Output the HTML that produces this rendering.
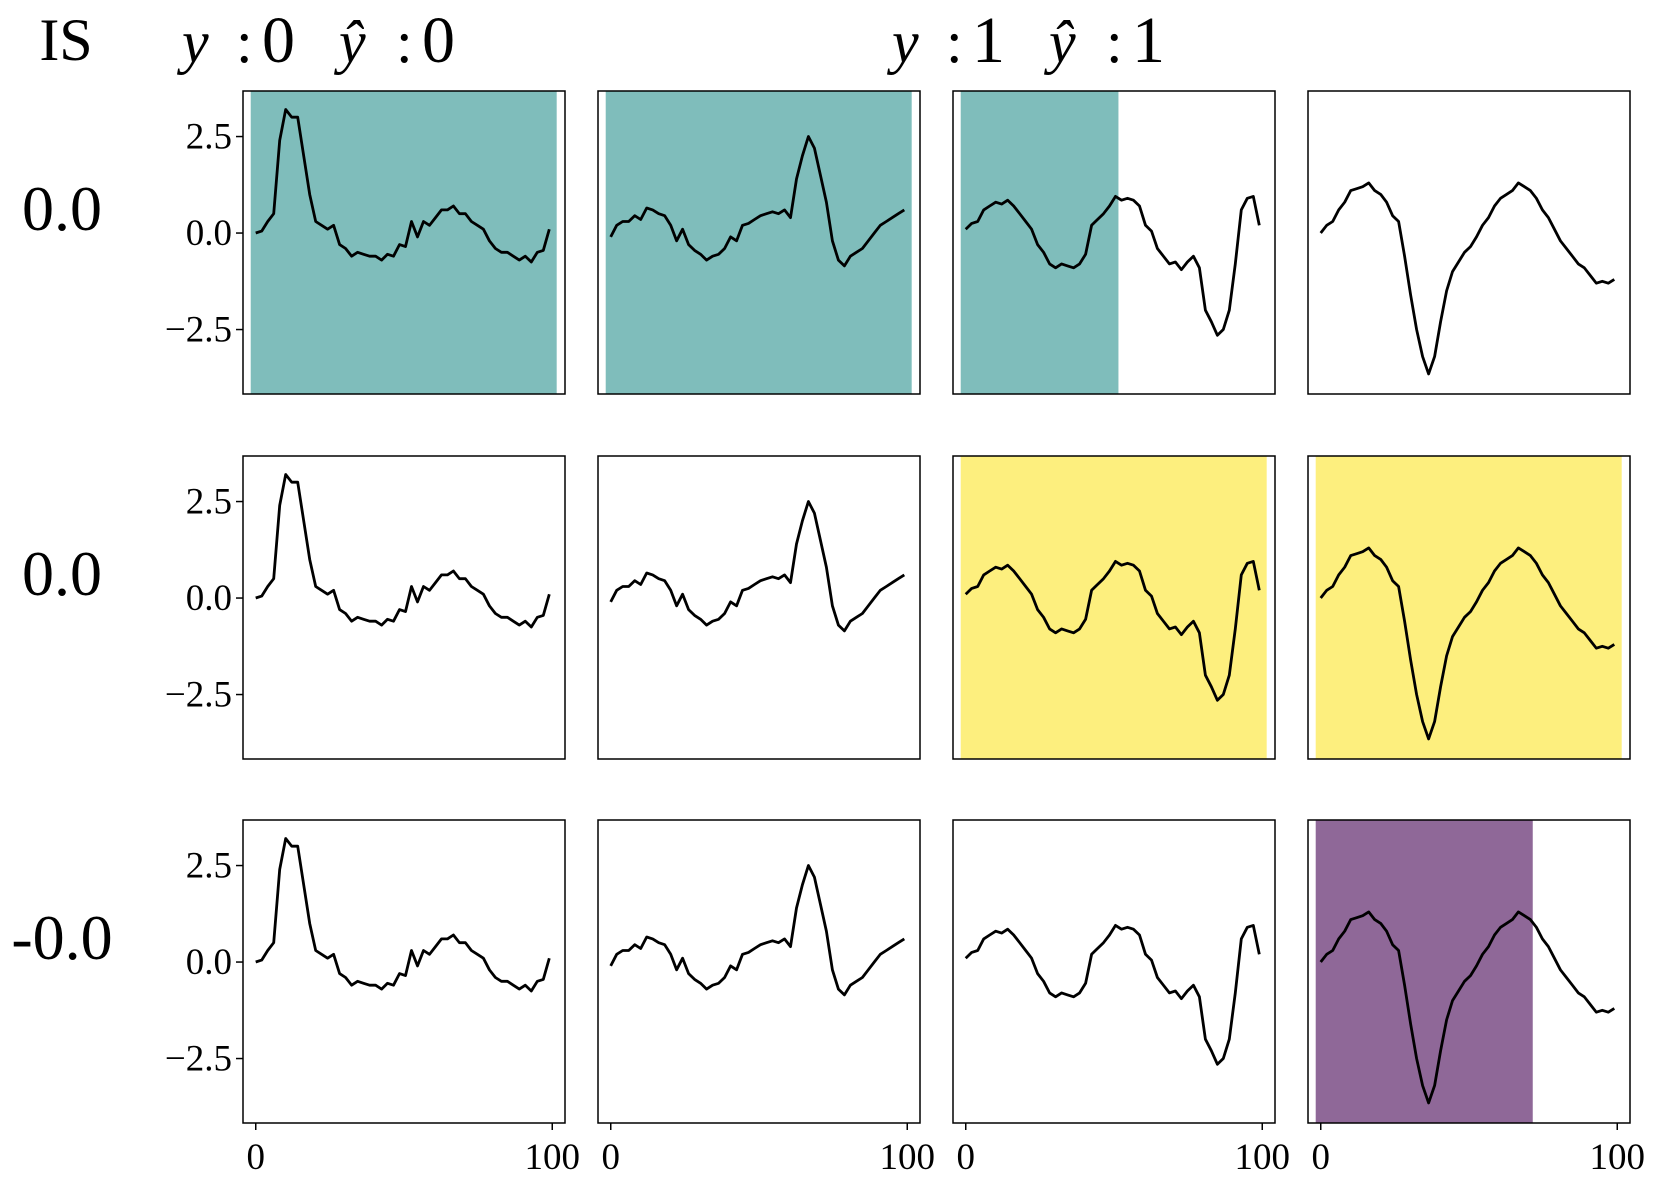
<!DOCTYPE html>
<html><head><meta charset="utf-8"><style>
html,body{margin:0;padding:0;background:#fff;}
svg{display:block;font-family:"Liberation Serif",serif;}
</style></head><body>
<svg id="fig" width="1661" height="1188" viewBox="0 0 1661 1188" xmlns="http://www.w3.org/2000/svg">
<text x="66" y="60" font-size="60" text-anchor="middle">IS</text>
<g font-size="60">
<text x="182" y="62" font-style="italic">y</text><text x="236" y="62">:</text><text x="262" y="62" font-size="66">0</text>
<text x="339" y="62" font-style="italic">ŷ</text><text x="396" y="62">:</text><text x="422" y="62" font-size="66">0</text>
</g>
<g font-size="60">
<text x="892" y="62" font-style="italic">y</text><text x="946" y="62">:</text><text x="972" y="62" font-size="66">1</text>
<text x="1049" y="62" font-style="italic">ŷ</text><text x="1106" y="62">:</text><text x="1132" y="62" font-size="66">1</text>
</g>
<text x="62" y="230" font-size="64" text-anchor="middle">0.0</text>
<text x="62" y="595" font-size="64" text-anchor="middle">0.0</text>
<text x="62" y="959" font-size="64" text-anchor="middle">-0.0</text>
<g id="panels"></g>
</svg>
<script>
const series1 = [0.0,0.05,0.3,0.5,2.4,3.2,3.0,3.0,2.0,1.0,0.3,0.2,0.1,0.2,-0.3,-0.4,-0.6,-0.5,-0.55,-0.6,-0.6,-0.7,-0.55,-0.6,-0.3,-0.35,0.3,-0.1,0.3,0.2,0.4,0.6,0.6,0.7,0.5,0.5,0.3,0.2,0.1,-0.2,-0.4,-0.5,-0.5,-0.6,-0.7,-0.6,-0.75,-0.5,-0.45,0.1];
const series2 = [-0.1,0.2,0.3,0.3,0.45,0.35,0.65,0.6,0.5,0.45,0.2,-0.2,0.1,-0.3,-0.45,-0.55,-0.7,-0.6,-0.55,-0.4,-0.1,-0.2,0.2,0.25,0.35,0.45,0.5,0.55,0.5,0.6,0.4,1.4,2.0,2.5,2.2,1.5,0.8,-0.2,-0.7,-0.85,-0.6,-0.5,-0.4,-0.2,0.0,0.2,0.3,0.4,0.5,0.6];
const series3 = [0.1,0.25,0.3,0.6,0.7,0.8,0.75,0.85,0.7,0.5,0.3,0.1,-0.3,-0.5,-0.8,-0.9,-0.8,-0.85,-0.9,-0.8,-0.55,0.2,0.35,0.5,0.7,0.95,0.85,0.9,0.85,0.7,0.2,0.05,-0.4,-0.6,-0.8,-0.75,-0.95,-0.75,-0.6,-0.9,-2.0,-2.3,-2.65,-2.5,-2.0,-0.8,0.6,0.9,0.95,0.2];
const series4 = [0.0,0.2,0.3,0.6,0.8,1.1,1.15,1.2,1.3,1.1,1.0,0.8,0.45,0.3,-0.6,-1.6,-2.5,-3.2,-3.65,-3.2,-2.3,-1.5,-1.0,-0.75,-0.5,-0.35,-0.1,0.2,0.4,0.7,0.9,1.0,1.1,1.3,1.2,1.1,0.9,0.6,0.4,0.1,-0.2,-0.4,-0.6,-0.8,-0.9,-1.1,-1.3,-1.25,-1.3,-1.2];
const yTicks = [2.5, 0, -2.5];
const yTickLabels = ["2.5", "0.0", "\u22122.5"];
const xTicks = [0, 100];
const xTickLabels = ["0", "100"];
const shadeColors = ["#7fbdbb", "#fdef7e", "#8f6898"];
const shadeRow1 = [[-1.7,101.5],[-1.7,101.5],[-1.7,51.5],null];
const shadeRow2 = [null,null,[-1.7,101.5],[-1.7,101.5]];
const shadeRow3 = [null,null,null,[-1.7,71.5]];

const NS = "http://www.w3.org/2000/svg";
const allSeries = [series1, series2, series3, series4];
const shades = [shadeRow1, shadeRow2, shadeRow3];
const colLeft = [243, 598, 953, 1308];
const rowTop = [91, 456, 820];
const PW = 322, PH = 303;
const XMIN = -4.3, XMAX = 104.3, YMIN = -4.17, YMAX = 3.68;
function mk(tag, attrs){ const e=document.createElementNS(NS,tag); for(const k in attrs) e.setAttribute(k,attrs[k]); return e; }
const root = document.getElementById('panels');
for (let r=0;r<3;r++){
  for (let c=0;c<4;c++){
    const x0=colLeft[c], y0=rowTop[r];
    const sx = v => x0 + (v - XMIN)/(XMAX-XMIN)*PW;
    const sy = v => y0 + (YMAX - v)/(YMAX-YMIN)*PH;
    const g = mk('g',{});
    
    
    root.appendChild(g);
    const sh = shades[r][c];
    if (sh){
      const a = Math.max(sh[0],XMIN), b = Math.min(sh[1],XMAX);
      const rect = mk('rect',{x:sx(a),y:y0,width:sx(b)-sx(a),height:PH,fill:shadeColors[r]});
      
      
      g.appendChild(rect);
    }
    const s = allSeries[c];
    const n = s.length;
    let d = '';
    for (let i=0;i<n;i++){ const xv = i*99/(n-1); d += (i?'L':'M')+sx(xv).toFixed(1)+','+sy(s[i]).toFixed(1); }
    const path = mk('path',{d:d,fill:'none',stroke:'#000','stroke-width':2.8,'stroke-linejoin':'round'});
    
    
    g.appendChild(path);
    const frame = mk('rect',{x:x0,y:y0,width:PW,height:PH,fill:'none',stroke:'#000','stroke-width':1.5});
    
    
    g.appendChild(frame);
    if (c===0){
      yTicks.forEach((t,k)=>{
        const ty = sy(t);
        g.appendChild(mk('line',{x1:x0-7,x2:x0,y1:ty,y2:ty,stroke:'#000','stroke-width':1.5}));
        const tx = mk('text',{x:x0-11,y:ty+12,'font-size':37,'text-anchor':'end'});
        
        
        tx.textContent = yTickLabels[k];
        g.appendChild(tx);
      });
    }
    if (r===2){
      xTicks.forEach((t,k)=>{
        const tx0 = sx(t);
        g.appendChild(mk('line',{x1:tx0,x2:tx0,y1:y0+PH,y2:y0+PH+7,stroke:'#000','stroke-width':1.5}));
        const tx = mk('text',{x:tx0,y:y0+PH+46,'font-size':37,'text-anchor':'middle'});
        
        
        tx.textContent = xTickLabels[k];
        g.appendChild(tx);
      });
    }
  }
}
</script>
</body></html>
